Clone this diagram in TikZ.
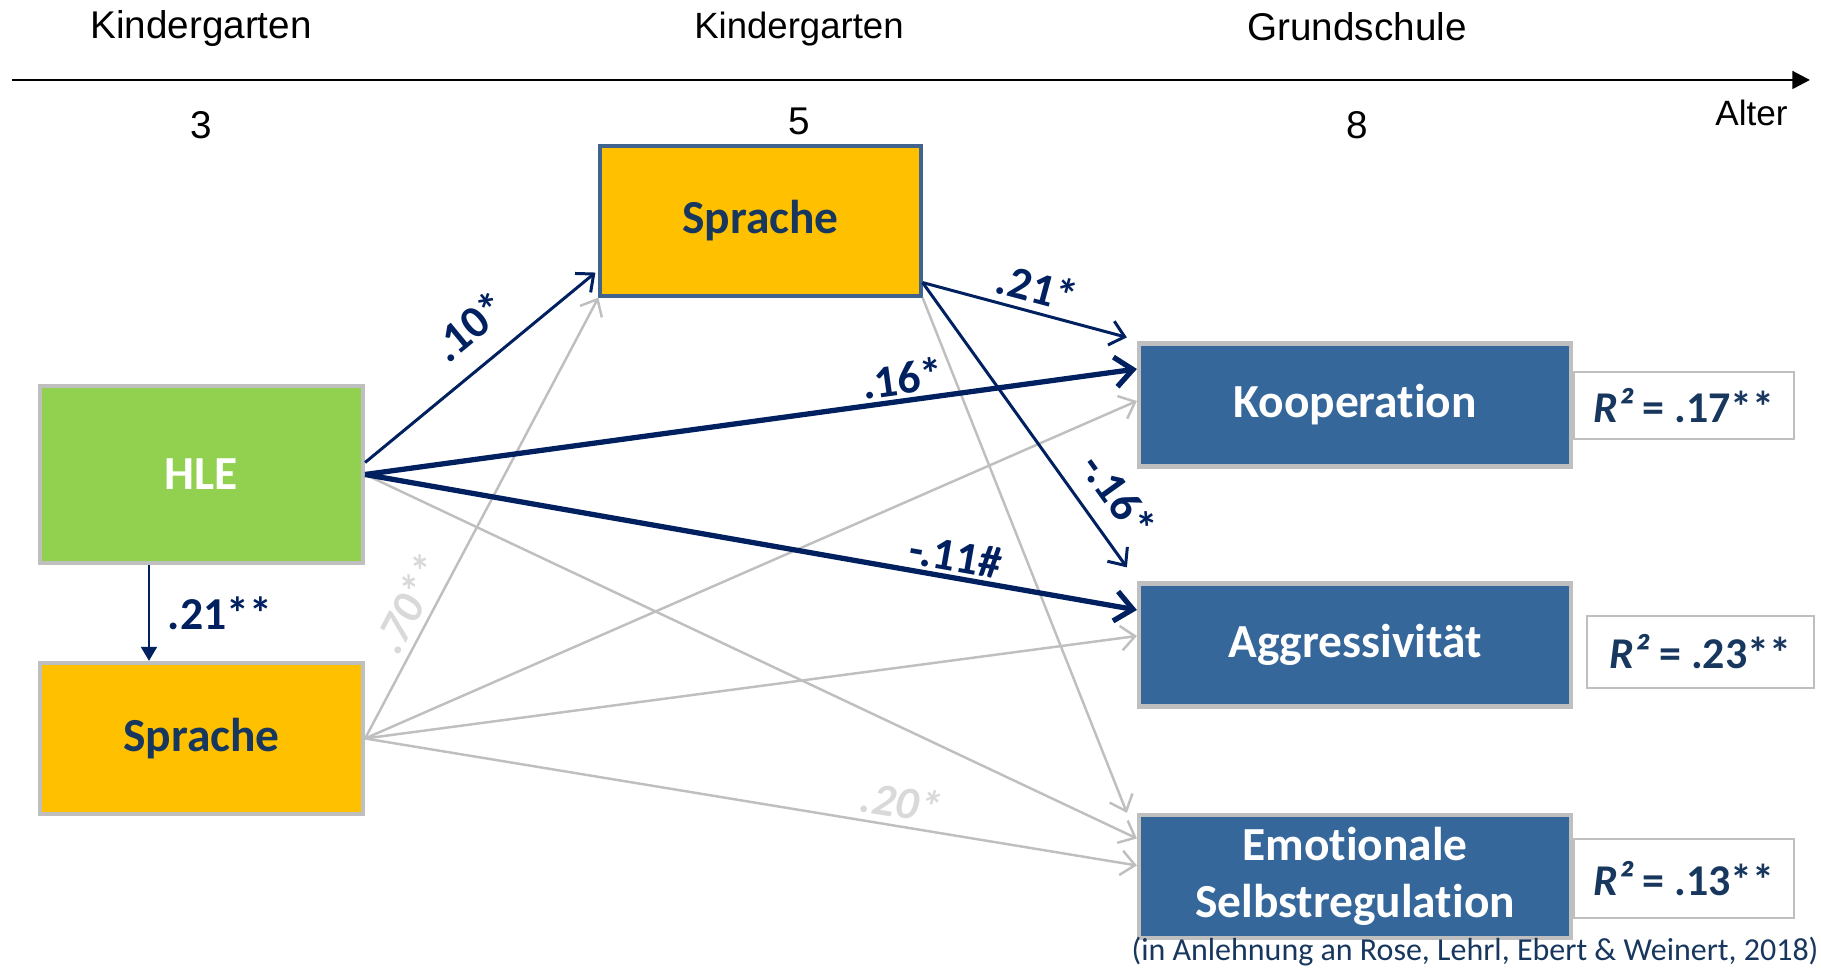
\documentclass[tikz,border=0pt]{standalone}
\usepackage{fontspec}
\setmainfont{Carlito}[Ligatures=NoCommon]
\newfontfamily\arialfont{Liberation Sans}
\usetikzlibrary{arrows.meta}
\usetikzlibrary{calc}

\definecolor{hlegreen}{HTML}{92D050}
\definecolor{sprachgelb}{HTML}{FFC000}
\definecolor{zielblau}{HTML}{35679A}
\definecolor{rahmenblau}{HTML}{41648F}
\definecolor{pfeilblau}{HTML}{002060}
\definecolor{textblau}{HTML}{17375E}
\definecolor{pfeilgrau}{HTML}{BFBFBF}
\definecolor{hellgrau}{HTML}{D9D9D9}

\begin{document}
\begin{tikzpicture}[
  box/.style={draw=pfeilgrau, line width=1.2pt, inner sep=0pt, align=center,
    font=\bfseries\fontsize{13.5}{16}\selectfont},
  ziel/.style={box, fill=zielblau, text=white, minimum width=4.32cm, minimum height=1.23cm},
  rbox/.style={draw=pfeilgrau, line width=0.6pt, fill=white, inner sep=0pt, text=textblau,
    font=\bfseries\fontsize{12.5}{15}\selectfont},
  zeit/.style={font=\arialfont\fontsize{11}{13}\selectfont},
  sig/.style={-{Straight Barb[length=4pt,width=7pt]}, pfeilblau, line width=0.85pt},
  sigdick/.style={-{Straight Barb[length=5pt,width=8.5pt]}, pfeilblau, line width=1.5pt},
  ns/.style={-{Straight Barb[length=4pt,width=7pt]}, pfeilgrau, line width=0.7pt},
  wert/.style={font=\bfseries\fontsize{13}{15}\selectfont, text=pfeilblau, inner sep=2pt},
  nswert/.style={font=\bfseries\itshape\fontsize{13}{15}\selectfont, text=hellgrau, inner sep=2pt}
]
\useasboundingbox (0,0) rectangle (18.21,9.68);

% Zeitachse
\coordinate (t0) at (0.12,8.88);
\coordinate (t1) at (18.10,8.88);
\draw[line width=0.8pt, -{Triangle[length=5pt,width=5pt]}] (t0) -- (t1);
\node[zeit] (kg3) at (2.01,9.39) {Kindergarten};
\node[zeit, font=\arialfont\fontsize{10.4}{13}\selectfont] (kg5) at (7.99,9.39) {Kindergarten};
\node[zeit] (gs8) at (13.57,9.41) {Grundschule};
\node[zeit] (a3) at (2.01,8.43) {3};
\node[zeit] (a5) at (7.99,8.47) {5};
\node[zeit] (a8) at (13.57,8.43) {8};
\node[zeit, font=\arialfont\fontsize{10}{12}\selectfont, anchor=east] (alter) at (18.00,8.55) {Alter};

% Praediktoren
\node[box, fill=hlegreen, text=white, minimum width=3.23cm, minimum height=1.77cm] (hle) at (2.015,4.935) {HLE};
\node[box, fill=sprachgelb, text=textblau, minimum width=3.23cm, minimum height=1.51cm] (sprache3) at (2.015,2.295) {Sprache};
\node[box, draw=rahmenblau, line width=0.9pt, fill=sprachgelb, text=textblau, minimum width=3.21cm, minimum height=1.50cm] (sprache5) at (7.605,7.47) {Sprache};

% Outcomes
\node[ziel] (koop) at (13.55,5.63) {Kooperation};
\node[ziel] (aggr) at (13.55,3.23) {Aggressivität};
\node[ziel] (emot) at (13.55,0.915) {Emotionale\\Selbstregulation};

\node[rbox, minimum width=2.20cm, minimum height=0.67cm] (rkoop) at (16.84,5.625) {{\itshape R²} = .17**};
\node[rbox, minimum width=2.27cm, minimum height=0.72cm] (raggr) at (17.005,3.16) {{\itshape R²} = .23**};
\node[rbox, minimum width=2.20cm, minimum height=0.79cm] (remot) at (16.84,0.895) {{\itshape R²} = .13**};

\node[text=textblau, font=\fontsize{9.1}{11}\selectfont, inner sep=0pt] (quelle) at (14.75,0.16)
  {(in Anlehnung an Rose, Lehrl, Ebert \& Weinert, 2018)};

% nicht signifikante Pfade
\draw[ns] (sprache3.east) -- (sprache5.south west)
  node[nswert, pos=0.28, sloped, above] {.70**};
\draw[ns] (sprache3.east) -- ($(koop.west)+(0,0.04)$);
\draw[ns] (sprache3.east) -- ($(aggr.west)+(0,0.09)$);
\draw[ns] (sprache3.east) -- ($(emot.west)+(0,0.11)$)
  node[nswert, pos=0.69, sloped, above] {.20*};
\draw[ns] (hle.east) -- ($(emot.west)+(0,0.38)$);
\draw[ns] (sprache5.south east) -- ($(emot.north west)+(-0.1,0)$);

% signifikante Pfade
\draw[pfeilblau, line width=0.75pt, -{Triangle[length=4pt,width=4.5pt]}]
  ($(hle.south)+(-0.525,0)$) -- ($(sprache3.north)+(-0.525,0)$)
  node[wert, midway, right, xshift=3pt] {.21**};
\draw[sig] ($(hle.east)+(0,0.12)$) -- ($(sprache5.south west)+(-0.03,0.25)$)
  node[wert, pos=0.56, sloped, above=4pt] {.10*};
\draw[sigdick] (hle.east) -- ($(koop.west)+(0,0.36)$)
  node[wert, pos=0.70, sloped, above, inner sep=1pt] {.16*};
\draw[sigdick] (hle.east) -- ($(aggr.west)+(0,0.35)$)
  node[wert, pos=0.76, sloped, above, inner sep=1pt] {-.11\#};
\draw[sig] ($(sprache5.south east)+(0,0.15)$) -- ($(koop.north west)+(-0.10,0.04)$)
  node[wert, pos=0.53, sloped, above] {.21*};
\draw[sig] ($(sprache5.south east)+(0,0.15)$) -- ($(aggr.north west)+(-0.10,0.14)$)
  node[wert, pos=0.82, sloped, above=3pt] {-.16*};
\end{tikzpicture}
\end{document}
